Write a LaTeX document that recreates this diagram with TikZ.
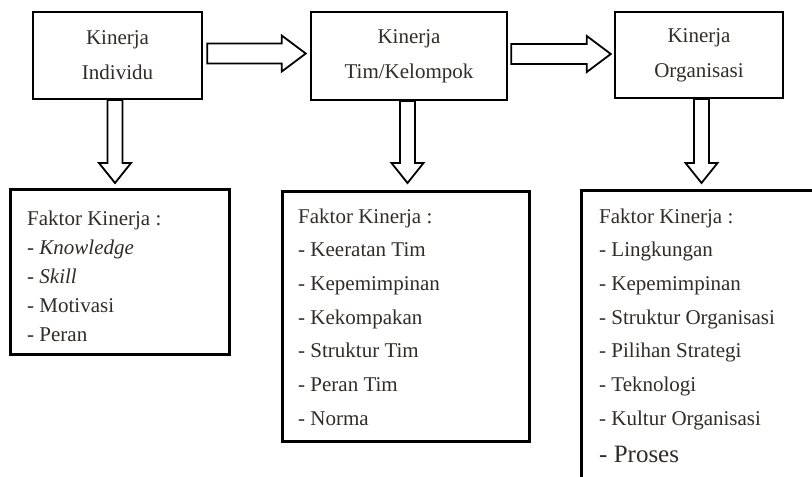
\documentclass[tikz,border=0pt]{standalone}
\usepackage{fontspec}
\setmainfont{Liberation Serif}
\usetikzlibrary{calc}
\definecolor{inkc}{RGB}{48,44,40}

% hollow block arrows, drawn from a tail coordinate to a tip coordinate
\newcommand\hblock[2]{%
  \draw[blockline] let \p1=(#1), \p2=(#2) in
    (\x1,\y1+10pt) -- (\x2-24pt,\y1+10pt) -- (\x2-24pt,\y1+18pt) -- (\x2,\y1)
    -- (\x2-24pt,\y1-18pt) -- (\x2-24pt,\y1-10pt) -- (\x1,\y1-10pt) -- cycle;}
\newcommand\vblock[2]{%
  \draw[blockline] let \p1=(#1), \p2=(#2) in
    (\x1-7.5pt,\y1) -- (\x1-7.5pt,\y2+20pt) -- (\x1-16pt,\y2+20pt) -- (\x1,\y2)
    -- (\x1+16pt,\y2+20pt) -- (\x1+7.5pt,\y2+20pt) -- (\x1+7.5pt,\y1) -- cycle;}

\begin{document}
\begin{tikzpicture}[x=1pt,y=-1pt,
  blockline/.style={draw=black,line width=1.8pt,fill=white,line join=miter},
  levelbox/.style={draw=black,line width=2.5pt,rectangle,inner sep=0pt,
    align=center,text=inkc,font=\fontsize{21}{35}\selectfont},
  factorbox/.style={draw=black,line width=2.5pt,rectangle,inner sep=0pt,
    anchor=north west},
  item/.style={anchor=base west,inner sep=0pt,text=inkc,
    font=\fontsize{21}{25}\selectfont}]
\useasboundingbox (0,0) rectangle (812,477);
\clip (0,0) rectangle (812,477);
\fill[white] (0,0) rectangle (812,477);

% performance levels
\node[levelbox,minimum width=169pt,minimum height=87pt] (t1) at (117.5,55.5) {Kinerja\\Individu};
\node[levelbox,minimum width=196pt,minimum height=88pt] (t2) at (409,56) {Kinerja\\Tim/Kelompok};
\node[levelbox,minimum width=168pt,minimum height=86pt] (t3) at (699,55) {Kinerja\\Organisasi};

% factor boxes (the last one runs past the page edge)
\node[factorbox,minimum width=219pt,minimum height=165pt] (f1) at (9,188) {};
\node[factorbox,minimum width=247pt,minimum height=250pt] (f2) at (281,190) {};
\node[factorbox,minimum width=260pt,minimum height=320pt] (f3) at (580,189) {};

% factor lists
\foreach \t [count=\i] in {Faktor Kinerja :, - \textit{Knowledge}, - \textit{Skill}, - Motivasi, - Peran}
  \node[item] (a\i) at (27,{225+29*(\i-1)}) {\t};
\foreach \t [count=\i] in {Faktor Kinerja :, - Keeratan Tim, - Kepemimpinan, - Kekompakan,
    - Struktur Tim, - Peran Tim, - Norma}
  \node[item] (b\i) at (298,{223+33.7*(\i-1)}) {\t};
\foreach \t [count=\i] in {Faktor Kinerja :, - Lingkungan, - Kepemimpinan, - Struktur Organisasi,
    - Pilihan Strategi, - Teknologi, - Kultur Organisasi}
  \node[item] (c\i) at (599,{223+33.7*(\i-1)}) {\t};
\node[item,font=\fontsize{25}{30}\selectfont] (c8) at (599,462) {- Proses};

% arrow end points
\coordinate (h1s) at ($(t1.east)+(4,-2)$);
\coordinate (h1e) at ($(t2.west)+(-4,-2)$);
\coordinate (h2s) at ($(t2.east)+(3,-2)$);
\coordinate (h2e) at ($(t3.west)+(-3,-1)$);
\coordinate (v1s) at (115,100);
\coordinate (v1e) at (115,183);
\coordinate (v2s) at (407.5,101);
\coordinate (v2e) at (407.5,183);
\coordinate (v3s) at (701.5,99);
\coordinate (v3e) at (701.5,183);

\hblock{h1s}{h1e}
\hblock{h2s}{h2e}
\vblock{v1s}{v1e}
\vblock{v2s}{v2e}
\vblock{v3s}{v3e}
\end{tikzpicture}
\end{document}
